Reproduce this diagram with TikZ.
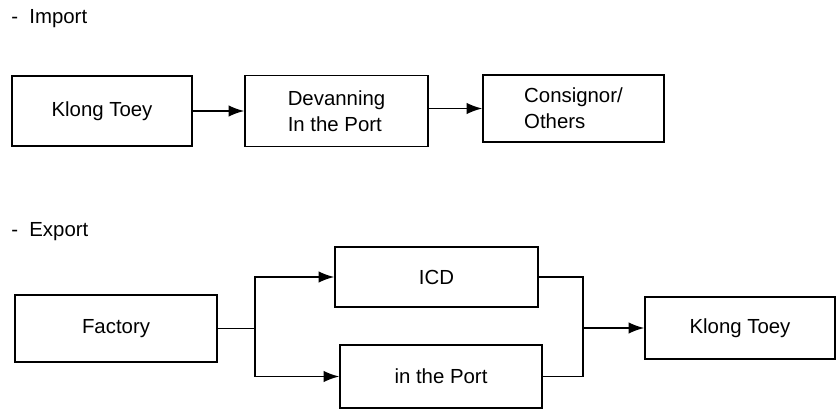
\documentclass[tikz,border=0pt]{standalone}
\usepackage{fontspec}
\setmainfont{Liberation Sans}
\usetikzlibrary{arrows.meta}
\begin{document}
\begin{tikzpicture}[
        x=0.025cm,
        y=-0.025cm,
        font=\fontsize{14.5}{18.5}\selectfont
    ]
    \tikzset{
        flowbox/.style = {draw=black, line width=1.1pt, inner sep=2pt, align=left},
        headtxt/.style = {anchor=west, inner sep=0pt},
        flowline/.style = {line width=1pt},
        flowarrow/.style = {line width=1pt, -{Latex[length=11pt,width=8pt]}},
    }
    \useasboundingbox (0,0) rectangle (837,413);
    \node[headtxt] at (11,19) (imp) {-\ \ Import};
    \node[headtxt] at (11,232) (exp) {-\ \ Export};
    %
    \node[flowbox, minimum width=4.5cm, minimum height=1.75cm] at (102,111) (kt) {Klong Toey};
    \node[flowbox, minimum width=4.575cm, minimum height=1.775cm] at (336.5,111) (dev) {Devanning\\In the Port};
    \node[flowbox, minimum width=4.525cm, minimum height=1.675cm] at (573.5,108.5) (cons) {Consignor/\\Others};
    %
    \node[flowbox, minimum width=5.05cm, minimum height=1.675cm] at (116,328.5) (fac) {Factory};
    \node[flowbox, minimum width=5.075cm, minimum height=1.5cm] at (436.5,277) (icd) {ICD};
    \node[flowbox, minimum width=5.05cm, minimum height=1.575cm] at (441,376.5) (port) {in the Port};
    \node[flowbox, minimum width=4.75cm, minimum height=1.55cm] at (740,328) (kt2) {Klong Toey};
    %
    \draw[flowarrow] (kt) -- (dev);
    \draw[flowarrow] (dev.east |- cons) -- (cons);
    %
    \coordinate (split) at (255,328.5);
    \coordinate (join) at (583,328);
    \draw[flowline] (fac) -- (split);
    \draw[flowarrow] (split) |- (icd);
    \draw[flowarrow] (split) |- (port);
    \draw[flowline] (icd) -| (join);
    \draw[flowline] (port) -| (join);
    \draw[flowarrow] (join) -- (kt2);
\end{tikzpicture}
\end{document}
